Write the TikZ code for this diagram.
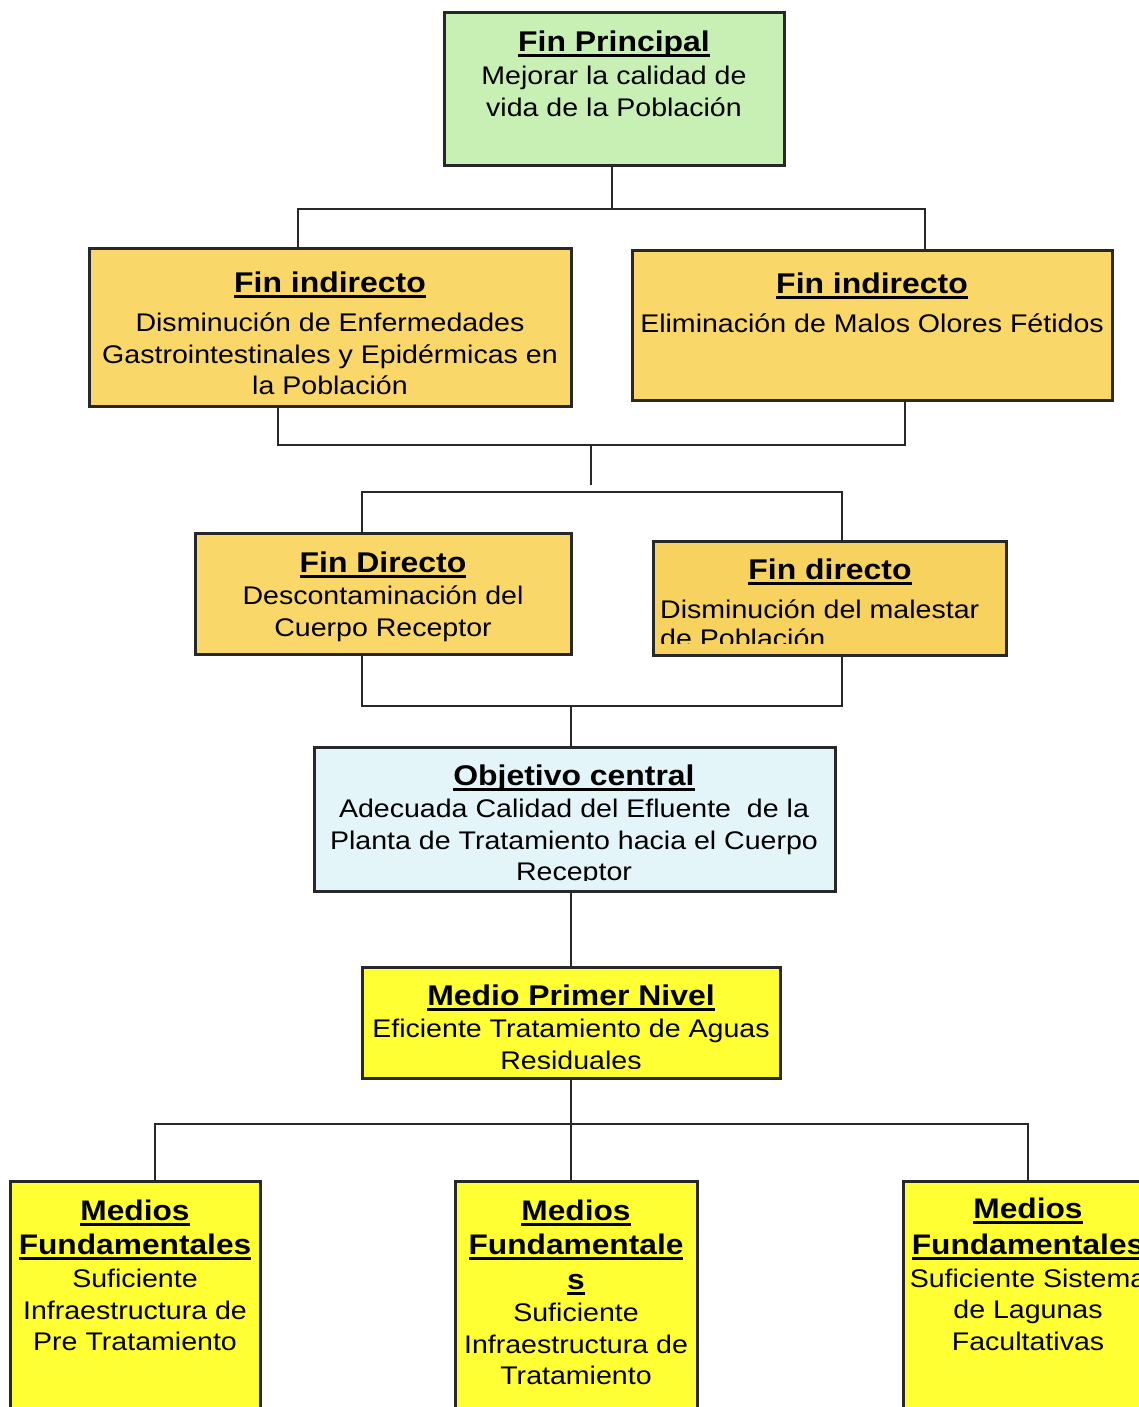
\documentclass[tikz,border=0pt]{standalone}
\usepackage{fontspec}
\setmainfont{Liberation Sans}[FakeStretch=1.12]
\definecolor{cgreen}{RGB}{200,240,180}
\definecolor{cgold}{RGB}{250,215,105}
\definecolor{cgoldb}{RGB}{247,210,95}
\definecolor{cblue}{RGB}{228,245,250}
\definecolor{cyel}{RGB}{255,255,51}
\definecolor{bord}{RGB}{40,40,40}
\newcommand\titul[1]{\setbox0=\hbox{\fontsize{28.5}{32}\selectfont\bfseries #1}\rlap{\rule[-5.5pt]{\wd0}{3pt}}\box0}
\newcommand\titulL[1]{\setbox0=\hbox{\fontsize{28.3}{32}\selectfont\bfseries #1}\rlap{\rule[-5.5pt]{\wd0}{3pt}}\box0}
\begin{document}
\begin{tikzpicture}[x=1pt,y=-1pt,
  box/.style={draw=bord, line width=3pt, rectangle, inner sep=0pt, outer sep=0pt, anchor=north west},
  txt/.style={anchor=north, align=center, inner sep=0pt, font=\fontsize{25.5}{31.5}\selectfont},
  conn/.style={draw=bord, line width=2.8pt}]
\useasboundingbox (0,0) rectangle (1139,1407);

% boxes
\node[box, fill=cgreen, minimum width=340pt, minimum height=153pt] (fp) at (444,13) {};
\node[box, fill=cgold, minimum width=482pt, minimum height=158pt] (fi1) at (89,248) {};
\node[box, fill=cgold, minimum width=480pt, minimum height=150pt] (fi2) at (632,250) {};
\node[box, fill=cgold, minimum width=376pt, minimum height=121pt] (fd1) at (195,533) {};
\node[box, fill=cgoldb, minimum width=353pt, minimum height=114pt] (fd2) at (653,541) {};
\node[box, fill=cblue, minimum width=521pt, minimum height=144pt] (oc) at (314,747) {};
\node[box, fill=cyel, minimum width=418pt, minimum height=111pt] (mp) at (362,967) {};
\node[box, fill=cyel, minimum width=250pt, minimum height=240pt] (mf1) at (10,1181) {};
\node[box, fill=cyel, minimum width=242pt, minimum height=240pt] (mf2) at (455,1181) {};
\node[box, fill=cyel, minimum width=250pt, minimum height=240pt] (mf3) at (903,1181) {};

% texts
\node[txt] (fpT) at (614,31) {\titul{Fin Principal}\\[1.5pt]Mejorar la calidad de\\vida de la Población};
\node[txt] (fi1T) at (330,272) {\titul{Fin indirecto}\\[7.5pt]Disminución de Enfermedades\\Gastrointestinales y Epidérmicas en\\la Población};
\node[txt] (fi2T) at (872,273) {\titul{Fin indirecto}\\[7.5pt]Eliminación de Malos Olores Fétidos};
\node[txt] (fd1T) at (383,552) {\titul{Fin Directo}\\[0.5pt]Descontaminación del\\Cuerpo Receptor};
\node[txt] (fd2T) at (830,559) {\titul{Fin directo}};
\begin{scope}
  \clip (fd2.north west) rectangle ([yshift=12pt]fd2.south east);
  \node[txt, anchor=north west, align=left, font=\fontsize{25.5}{28.5}\selectfont] (fd2B) at (660,600) {Disminución del malestar\\de Población};
\end{scope}
\begin{scope}
  \clip (oc.north west) rectangle ([yshift=11pt]oc.south east);
  \node[txt] (ocT) at (574,765) {\titul{Objetivo central}\\[0.5pt]Adecuada Calidad del Efluente\ \ de la\\Planta de Tratamiento hacia el Cuerpo\\Receptor};
\end{scope}
\begin{scope}
  \clip (mp.north west) rectangle ([yshift=10pt]mp.south east);
  \node[txt] (mpT) at (571,985) {\titul{Medio Primer Nivel}\\[0.5pt]Eficiente Tratamiento de Aguas\\Residuales};
\end{scope}
\node[txt] (mf1T) at (135,1200) {\titulL{Medios}\\[2pt]\titulL{Fundamentales}\\[2pt]Suficiente\\Infraestructura de\\Pre Tratamiento};
\node[txt] (mf2T) at (576,1200) {\titulL{Medios}\\[2pt]\titulL{Fundamentale}\\[4pt]\titulL{s}\\[0.5pt]Suficiente\\Infraestructura de\\Tratamiento};
\node[txt] (mf3T) at (1028,1198) {\titulL{Medios}\\[4pt]\titulL{Fundamentales}\\[1.5pt]Suficiente Sistema\\de Lagunas\\Facultativas};

% connectors
\coordinate (j1) at (612,209);
\coordinate (j1l) at (298,209);
\coordinate (j1r) at (925,209);
\draw[conn] (j1 |- fp.south) -- (j1);
\draw[conn] (j1l |- fi1.north) -- (j1l) -- (j1r) -- (j1r |- fi2.north);

\coordinate (j2l) at (278,445);
\coordinate (j2r) at (905,445);
\coordinate (j2c) at (591,445);
\coordinate (j2e) at (591,485);
\draw[conn] (j2l |- fi1.south) -- (j2l) -- (j2r) -- (j2r |- fi2.south);
\draw[conn] (j2c) -- (j2e);

\coordinate (j3l) at (362,492);
\coordinate (j3r) at (842,492);
\draw[conn] (j3l |- fd1.north) -- (j3l) -- (j3r) -- (j3r |- fd2.north);

\coordinate (j4l) at (362,706);
\coordinate (j4r) at (842,706);
\coordinate (j4c) at (571,706);
\draw[conn] (j4l |- fd1.south) -- (j4l) -- (j4r) -- (j4r |- fd2.south);
\draw[conn] (j4c) -- (j4c |- oc.north);
\draw[conn] (j4c |- oc.south) -- (j4c |- mp.north);

\coordinate (j5c) at (571,1124);
\coordinate (j5l) at (155,1124);
\coordinate (j5r) at (1028,1124);
\draw[conn] (j5c |- mp.south) -- (j5c |- mf2.north);
\draw[conn] (j5l |- mf1.north) -- (j5l) -- (j5r) -- (j5r |- mf3.north);
\end{tikzpicture}
\end{document}
